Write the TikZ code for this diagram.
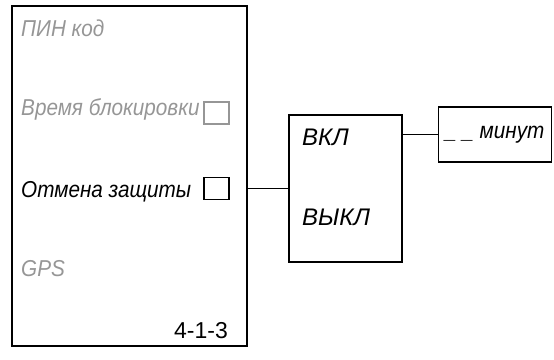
\documentclass[tikz,border=0pt]{standalone}
\usepackage{fontspec}
\setmainfont{Liberation Sans}[FakeStretch=0.9]
\newfontfamily\ancho{Liberation Sans}
\usetikzlibrary{positioning}

\definecolor{apagado}{RGB}{150,150,150}

\begin{document}
\begin{tikzpicture}[
  x=1pt,
  y=-1pt,
  font=\fontsize{23}{27}\selectfont\itshape,
  caja/.style={
    rectangle,
    draw,
    line width=1.8pt,
    inner sep=0pt
  },
  casilla/.style={
    rectangle,
    draw,
    line width=1.5pt,
    minimum width=25pt,
    minimum height=22pt,
    inner sep=0pt
  },
  item/.style={
    anchor=base west,
    inner sep=0pt
  },
  inactivo/.style={
    text=apagado
  },
  enlace/.style={
    line width=1.8pt
  }
]

\useasboundingbox (0,0) rectangle (554,359);

% =========================================================
% MENU
% =========================================================

\node[caja, minimum width=235pt, minimum height=340pt] (menu)
  at (129.5,176) {};

\node[item, inactivo] (pin) at (21,36.5) {ПИН код};

\node[item, inactivo] (bloqueo) at (21,115) {Время блокировки};

\node[casilla, draw=apagado] (cbbloqueo) at (216.5,113) {};

\node[item] (cancelar) at (21,197) {Отмена защиты};

\node[casilla] (cbcancelar) at (216.5,188.5) {};

\node[item, inactivo] (gps) at (21,276) {GPS};

\node[anchor=base east, inner sep=0pt, font=\ancho\fontsize{23}{27}\selectfont]
  (codigo) at (228,338) {4-1-3};

% =========================================================
% ВКЛ / ВЫКЛ
% =========================================================

\node[caja, minimum width=113pt, minimum height=147pt] (onoff)
  at (345.5,188.5) {};

\node[item, font=\ancho\fontsize{24}{28}\selectfont\itshape] (on)
  at (302,145) {ВКЛ};

\node[item, font=\ancho\fontsize{24}{28}\selectfont\itshape] (off)
  at (302,225) {ВЫКЛ};

% =========================================================
% MINUTOS
% =========================================================

\node[caja, minimum width=113pt, minimum height=55pt] (minutos)
  at (495,134.5) {};

\node[item] (tiempo) at (445,138) {\_ \_ минут};

% =========================================================
% ENLACES
% =========================================================

\coordinate (salida) at (menu.east |- cbcancelar);

\draw[enlace]
  (salida) -- (onoff.west);

\draw[enlace]
  (onoff.east |- minutos) -- (minutos.west);

\end{tikzpicture}
\end{document}
